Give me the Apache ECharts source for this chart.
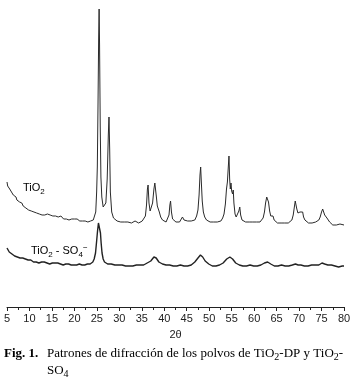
<!DOCTYPE html>
<html>
<head>
<meta charset="utf-8">
<script src="https://cdn.jsdelivr.net/npm/echarts@6/dist/echarts.min.js"></script>
<style>
  html, body { margin: 0; padding: 0; background: #fff; }
  #chart { width: 354px; height: 382px; }
</style>
</head>
<body>
<div id="chart"></div>
<script>
// 2θ (deg) vs intensity (a.u.)
const tio2Pattern = [
  [5.0,125],[5.15,121],[5.3,123],[5.45,119],[5.6,118],[5.8,117],[6.0,115],[6.2,115],[6.4,112],[6.6,113],
  [6.8,110],[7.0,110],[7.2,107],[7.4,108],[7.6,105],[7.8,105],[8.0,103],[8.3,104],[8.6,101],[8.9,101],
  [9.2,99],[9.5,100],[9.8,97],[10.1,98],[10.4,96],[10.7,97],[11.0,95],[11.3,96],[11.6,94],[11.9,95],
  [12.2,93],[12.5,94],[12.8,92],[13.1,94],[13.4,92],[13.7,91],[14.0,93],[14.3,91],[14.6,92],[14.9,90],
  [15.2,91],[15.5,90],[15.8,91],[16.1,89],[16.4,90],[16.7,89],[17.0,91],[17.3,89],[17.6,88],[17.9,90],
  [18.2,88],[18.5,89],[18.8,87],[19.1,89],[19.4,88],[19.7,87],[20.0,88],[20.3,86],[20.6,88],[20.9,87],
  [21.2,86],[21.5,88],[21.8,86],[22.1,87],[22.4,86],[22.7,87],[23.0,85],[23.3,87],[23.6,86],[23.9,87],
  [24.2,87],[24.5,89],[24.75,95],[24.95,115],[25.1,140],[25.25,200],[25.4,270],[25.5,298],[25.6,262],[25.75,180],
  [25.9,130],[26.1,110],[26.4,100],[26.7,98],[27.0,104],[27.3,128],[27.55,172],[27.7,190],[27.85,158],[28.0,115],
  [28.3,95],[28.7,89],[29.1,87],[29.5,86],[29.9,87],[30.3,85],[30.7,86],[31.1,85],[31.5,86],[31.9,85],
  [32.3,86],[32.7,84],[33.1,85],[33.5,86],[33.9,85],[34.3,84],[34.7,85],[35.1,86],[35.5,87],[35.8,91],
  [36.05,102],[36.25,118],[36.4,122],[36.6,104],[36.85,96],[37.1,97],[37.4,104],[37.7,118],[37.9,124],[38.05,125],
  [38.25,110],[38.45,101],[38.65,99],[38.9,95],[39.2,90],[39.6,87],[40.0,86],[40.4,85],[40.8,87],[41.05,92],
  [41.25,102],[41.4,106],[41.6,95],[41.85,88],[42.2,86],[42.6,85],[43.0,86],[43.4,85],[43.8,87],[44.05,90],
  [44.2,91],[44.4,87],[44.8,85],[45.2,86],[45.6,85],[46.0,86],[46.4,85],[46.8,87],[47.2,91],[47.5,97],
  [47.75,112],[47.95,132],[48.1,140],[48.25,125],[48.45,106],[48.7,95],[49.0,90],[49.4,87],[49.8,86],[50.2,85],
  [50.6,86],[51.0,85],[51.4,84],[51.8,85],[52.2,85],[52.6,86],[53.0,89],[53.3,93],[53.6,103],[53.85,118],
  [54.05,125],[54.25,140],[54.4,151],[54.55,128],[54.7,118],[54.85,124],[55.0,116],[55.2,113],[55.35,117],[55.5,104],
  [55.75,93],[56.0,90],[56.3,91],[56.6,96],[56.8,100],[57.0,92],[57.3,87],[57.7,86],[58.1,85],[58.5,84],
  [58.9,85],[59.3,84],[59.7,85],[60.1,84],[60.5,85],[60.9,84],[61.3,85],[61.7,87],[62.0,89],[62.3,95],
  [62.55,104],[62.8,110],[63.0,112],[63.2,105],[63.45,96],[63.7,91],[64.0,90],[64.2,91],[64.45,87],[64.8,85],
  [65.2,84],[65.6,85],[66.0,84],[66.4,83],[66.8,84],[67.2,85],[67.6,84],[68.0,85],[68.4,87],[68.7,92],
  [68.95,100],[69.15,106],[69.3,107],[69.5,98],[69.75,94],[70.0,95],[70.2,95],[70.4,93],[70.6,94],[70.8,95],
  [71.0,90],[71.3,87],[71.7,85],[72.1,84],[72.5,85],[72.9,84],[73.3,84],[73.7,85],[74.1,85],[74.4,87],
  [74.7,90],[75.0,95],[75.25,98],[75.45,98],[75.7,92],[75.95,90],[76.2,89],[76.5,87],[76.8,85],[77.1,83],
  [77.5,82],[77.9,83],[78.3,82],[78.7,82],[79.1,83],[79.5,82],[80.0,82]
];

const tio2So4Pattern = [
  [5.0,59],[5.15,57],[5.3,57],[5.5,55],[5.7,55],[5.9,53],[6.1,53],[6.4,52],[6.7,51],[7.0,51],
  [7.3,50],[7.6,49],[7.9,49],[8.2,48],[8.5,49],[8.8,47],[9.1,48],[9.4,47],[9.7,47],[10.0,46],
  [10.3,47],[10.6,46],[10.9,45],[11.2,46],[11.5,45],[11.8,46],[12.1,44],[12.4,45],[12.7,45],[13.0,44],
  [13.3,45],[13.6,44],[13.9,44],[14.2,45],[14.5,43],[14.8,44],[15.1,44],[15.4,43],[15.7,44],[16.0,43],
  [16.3,44],[16.6,43],[16.9,43],[17.2,44],[17.5,42],[17.8,43],[18.1,43],[18.4,42],[18.7,43],[19.0,43],
  [19.3,42],[19.6,43],[19.9,42],[20.2,43],[20.5,42],[20.8,42],[21.1,43],[21.4,42],[21.7,42],[22.0,43],
  [22.3,42],[22.6,42],[22.9,43],[23.2,43],[23.5,43],[23.8,44],[24.1,45],[24.4,48],[24.7,54],[24.95,66],
  [25.15,76],[25.35,84],[25.5,86],[25.65,83],[25.8,74],[25.95,64],[26.15,54],[26.4,48],[26.7,45],[27.0,44],
  [27.4,43],[27.8,42],[28.2,43],[28.6,42],[29.0,42],[29.4,43],[29.8,42],[30.2,41],[30.6,42],[31.0,42],
  [31.4,41],[31.8,42],[32.2,41],[32.6,42],[33.0,41],[33.4,41],[33.8,42],[34.2,41],[34.6,42],[35.0,42],
  [35.4,42],[35.8,43],[36.2,44],[36.6,45],[37.0,46],[37.4,48],[37.7,50],[37.95,50],[38.2,49],[38.5,47],
  [38.8,45],[39.2,44],[39.6,43],[40.0,42],[40.4,42],[40.8,41],[41.2,42],[41.6,41],[42.0,41],[42.4,42],
  [42.8,41],[43.2,41],[43.6,42],[44.0,41],[44.4,41],[44.8,42],[45.2,41],[45.6,42],[46.0,42],[46.4,43],
  [46.8,45],[47.2,47],[47.5,49],[47.8,51],[48.05,52],[48.3,52],[48.55,50],[48.8,48],[49.1,46],[49.5,44],
  [49.9,43],[50.3,42],[50.7,41],[51.1,42],[51.5,41],[51.9,41],[52.3,42],[52.7,43],[53.1,44],[53.5,46],
  [53.9,48],[54.3,50],[54.6,50],[54.9,49],[55.2,48],[55.5,46],[55.9,44],[56.3,43],[56.7,42],[57.1,42],
  [57.5,41],[57.9,42],[58.3,41],[58.7,41],[59.1,42],[59.5,41],[59.9,41],[60.3,42],[60.7,41],[61.1,42],
  [61.5,42],[61.9,43],[62.3,44],[62.7,45],[63.0,45],[63.3,44],[63.7,43],[64.1,42],[64.5,41],[64.9,42],
  [65.3,41],[65.7,41],[66.1,42],[66.5,41],[66.9,41],[67.3,42],[67.7,41],[68.1,42],[68.5,42],[68.9,43],
  [69.2,43],[69.5,43],[69.8,42],[70.1,43],[70.4,42],[70.8,42],[71.2,41],[71.6,42],[72.0,41],[72.4,41],
  [72.8,42],[73.2,41],[73.6,42],[74.0,41],[74.4,42],[74.8,43],[75.1,44],[75.4,44],[75.7,43],[76.0,42],
  [76.4,42],[76.8,41],[77.2,42],[77.6,41],[78.0,41],[78.4,41],[78.8,40],[79.2,41],[79.6,41],[80.0,41]
];

const xMin = 5, xMax = 80, xStep = 5;
const axisTitle = '2θ';

const ink = '#222';
const sans = '"Liberation Sans", Arial, sans-serif';
const serif = '"Liberation Serif", "Times New Roman", serif';

const chart = echarts.init(document.getElementById('chart'), null, { renderer: 'canvas' });

const subRich = (size, font) => ({
  n: { fontFamily: font, fontSize: size, color: ink, lineHeight: size + 4, verticalAlign: 'middle' },
  s: { fontFamily: font, fontSize: size - 3, color: ink, lineHeight: size - 3, verticalAlign: 'bottom' },
  p: { fontFamily: font, fontSize: size - 3, color: ink, lineHeight: size - 3, verticalAlign: 'top' },
  b: { fontFamily: font, fontSize: size, color: ink, fontWeight: 'bold', lineHeight: size + 4, verticalAlign: 'middle' }
});

chart.setOption({
  animation: false,
  backgroundColor: '#fff',
  grid: { left: 7, right: 10, top: 0, bottom: 75 },
  xAxis: {
    type: 'value',
    min: xMin,
    max: xMax,
    interval: xStep,
    name: axisTitle,
    nameLocation: 'middle',
    nameGap: 22,
    nameTextStyle: { fontFamily: sans, fontSize: 11, color: ink },
    axisLine: { lineStyle: { color: ink, width: 1 } },
    axisTick: { show: true, length: 4, lineStyle: { color: ink } },
    minorTick: { show: true, splitNumber: 2, length: 3, lineStyle: { color: ink } },
    axisLabel: { fontFamily: sans, fontSize: 11, color: ink, margin: 6, showMinLabel: true, showMaxLabel: true },
    splitLine: { show: false }
  },
  yAxis: {
    type: 'value',
    min: 0,
    max: 307,
    show: false
  },
  series: [
    {
      name: 'TiO2',
      type: 'line',
      data: tio2Pattern,
      showSymbol: false,
      lineStyle: { color: '#2a2a2a', width: 1 }
    },
    {
      name: 'TiO2-SO4',
      type: 'line',
      data: tio2So4Pattern,
      showSymbol: false,
      lineStyle: { color: '#222', width: 1.4 }
    }
  ],
  graphic: [
    {
      type: 'text', x: 23, y: 188,
      style: { text: '{n|TiO}{s|2}', rich: subRich(11, sans), verticalAlign: 'middle' }
    },
    {
      type: 'text', x: 31, y: 251,
      style: { text: '{n|TiO}{s|2}{n| - SO}{s|4}{p|−}', rich: subRich(11, sans), verticalAlign: 'middle' }
    },
    {
      type: 'text', x: 4, y: 354,
      style: { text: '{b|Fig. 1.}', rich: subRich(13, serif), verticalAlign: 'middle' }
    },
    {
      type: 'text', x: 47, y: 354,
      style: { text: '{n|Patrones de difracción de los polvos de TiO}{s|2}{n|-DP y TiO}{s|2}{n|-}', rich: subRich(13, serif), verticalAlign: 'middle' }
    },
    {
      type: 'text', x: 47, y: 371,
      style: { text: '{n|SO}{s|4}', rich: subRich(13, serif), verticalAlign: 'middle' }
    }
  ]
});
</script>
</body>
</html>
